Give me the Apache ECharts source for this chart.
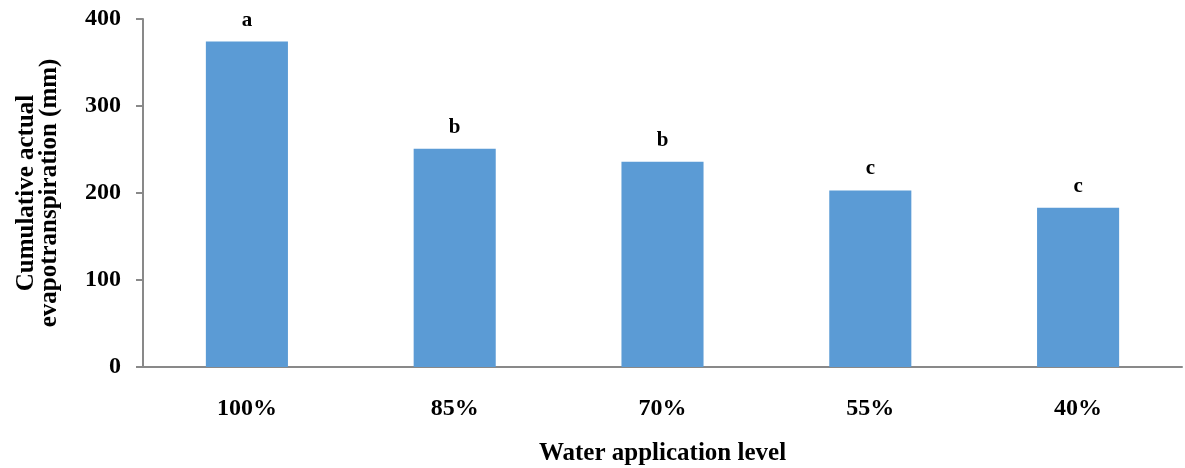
<!DOCTYPE html>
<html>
<head>
<meta charset="utf-8">
<script src="https://cdn.jsdelivr.net/npm/echarts@6/dist/echarts.min.js"></script>
<style>
html,body{margin:0;padding:0;background:#fff;}
#chart{width:1185px;height:468px;}
</style>
</head>
<body>
<div id="chart"></div>
<script>
const categories = ['100%', '85%', '70%', '55%', '40%'];
const etValues = [374, 251, 236, 203, 183];
const sigLetters = ['a', 'b', 'b', 'c', 'c'];
const yTicks = [0, 100, 200, 300, 400];

const FONT = "'Liberation Serif','Times New Roman',serif";
const chart = echarts.init(document.getElementById('chart'));
chart.setOption({
  animation: false,
  backgroundColor: '#fff',
  grid: {left: 143, right: 3, top: 19, bottom: 101, outerBoundsMode: 'none', containLabel: false},
  xAxis: {
    type: 'category',
    data: categories,
    axisLine: {lineStyle: {color: '#898989', width: 2}},
    axisTick: {show: false},
    axisLabel: {color: '#000', fontFamily: FONT, fontWeight: 'bold', fontSize: 24, margin: 30},
    name: 'Water application level',
    nameLocation: 'middle',
    nameGap: 74,
    nameTextStyle: {color: '#000', fontFamily: FONT, fontWeight: 'bold', fontSize: 25}
  },
  yAxis: {
    type: 'value',
    min: yTicks[0],
    max: yTicks[yTicks.length - 1],
    interval: 100,
    splitLine: {show: false},
    axisLine: {show: true, lineStyle: {color: '#898989', width: 2}},
    axisTick: {show: true, length: 7, lineStyle: {color: '#898989', width: 2}},
    axisLabel: {color: '#000', fontFamily: FONT, fontWeight: 'bold', fontSize: 24, margin: 22},
    name: 'Cumulative actual\nevapotranspiration (mm)',
    nameLocation: 'middle',
    nameGap: 82,
    nameTextStyle: {color: '#000', fontFamily: FONT, fontWeight: 'bold', fontSize: 25, lineHeight: 23}
  },
  series: [{
    type: 'bar',
    data: etValues,
    barCategoryGap: '60.5%',
    itemStyle: {color: '#5B9BD5'},
    label: {
      show: true,
      position: 'top',
      distance: 11,
      formatter: p => sigLetters[p.dataIndex],
      color: '#000', fontFamily: FONT, fontWeight: 'bold', fontSize: 21
    }
  }]
});
</script>
</body>
</html>
